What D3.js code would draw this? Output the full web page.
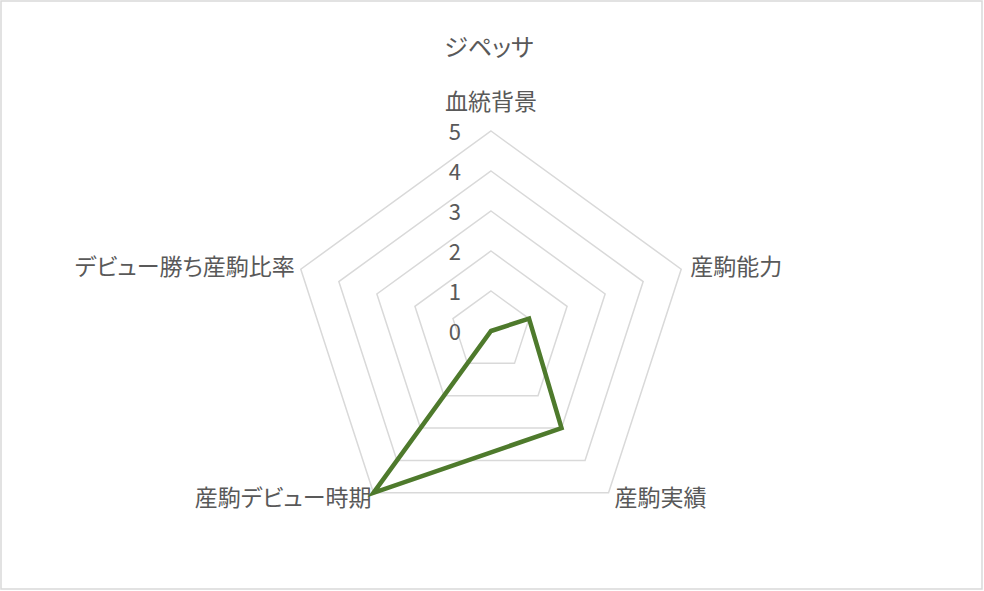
<!DOCTYPE html>
<html>
<head>
<meta charset="utf-8">
<script src="https://cdn.jsdelivr.net/npm/d3@7"></script>
<style>
    html, body { margin: 0; padding: 0; background: #fff; }
    text { font-family: "Noto Sans CJK JP", "Noto Sans", sans-serif; font-feature-settings: "palt"; fill: #595959; }
</style>
</head>
<body>
<div id="wrapper"></div>
<script>
// chart data
const title = "ジペッサ"
const categories = ["血統背景", "産駒能力", "産駒実績", "産駒デビュー時期", "デビュー勝ち産駒比率"]
const values = [0, 1, 3, 5, 0]
const ticks = [0, 1, 2, 3, 4, 5]

function drawRadar() {
    let dimensions = {
        width: 984,
        height: 591,
        centerX: 491,
        centerY: 331,
        radius: 200,
    }

    const wrapper = d3.select("#wrapper")
        .append("svg")
            .attr("width", dimensions.width)
            .attr("height", dimensions.height)

    // chart frame
    wrapper.append("rect")
        .attr("x", 1)
        .attr("y", 1)
        .attr("width", dimensions.width - 3)
        .attr("height", dimensions.height - 3)
        .attr("fill", "#fff")
        .attr("stroke", "#d9d9d9")
        .attr("stroke-width", 1.5)

    wrapper.append("text")
        .attr("x", dimensions.centerX - 2)
        .attr("y", 45)
        .attr("text-anchor", "middle")
        .attr("dominant-baseline", "central")
        .style("font-size", "24px")
        .text(title)

    const bounds = wrapper.append("g")
        .attr("transform", `translate(${dimensions.centerX},${dimensions.centerY})`)

    const rScale = d3.scaleLinear()
        .domain([0, d3.max(ticks)])
        .range([0, dimensions.radius])

    const angleScale = d3.scaleLinear()
        .domain([0, categories.length])
        .range([0, 2 * Math.PI])

    const pointAt = (i, v) => {
        const a = angleScale(i) - Math.PI / 2
        return [Math.cos(a) * rScale(v), Math.sin(a) * rScale(v)]
    }

    // grid pentagons
    bounds.selectAll(".grid")
        .data(ticks.filter(t => t > 0))
        .join("polygon")
        .attr("class", "grid")
        .attr("points", t => categories.map((c, i) => pointAt(i, t).join(",")).join(" "))
        .attr("fill", "none")
        .attr("stroke", "#d9d9d9")
        .attr("stroke-width", 1.5)

    // tick labels
    bounds.selectAll(".tick")
        .data(ticks)
        .join("text")
        .attr("class", "tick")
        .attr("x", -30)
        .attr("y", t => -rScale(t) - 1)
        .attr("text-anchor", "end")
        .attr("dominant-baseline", "central")
        .style("font-size", "22px")
        .text(t => t)

    // category labels
    const labelPos = [
        { dx: 0, dy: -31, anchor: "middle" },
        { dx: 9, dy: -4, anchor: "start" },
        { dx: 6, dy: 3, anchor: "start" },
        { dx: -2, dy: 3, anchor: "end" },
        { dx: -6, dy: -4, anchor: "end" },
    ]

    bounds.selectAll(".label")
        .data(categories)
        .join("text")
        .attr("class", "label")
        .attr("x", (d, i) => pointAt(i, d3.max(ticks))[0] + labelPos[i].dx)
        .attr("y", (d, i) => pointAt(i, d3.max(ticks))[1] + labelPos[i].dy)
        .attr("text-anchor", (d, i) => labelPos[i].anchor)
        .attr("dominant-baseline", "central")
        .style("font-size", "23px")
        .text(d => d)

    // data line
    const line = d3.line()
        .x(d => d[0])
        .y(d => d[1])
        .curve(d3.curveLinearClosed)

    bounds.append("path")
        .datum(values.map((v, i) => pointAt(i, v)))
        .attr("d", line)
        .attr("fill", "none")
        .attr("stroke", "#4e7a2c")
        .attr("stroke-width", 4.5)
        .attr("stroke-linejoin", "miter")
}

drawRadar()
</script>
</body>
</html>
